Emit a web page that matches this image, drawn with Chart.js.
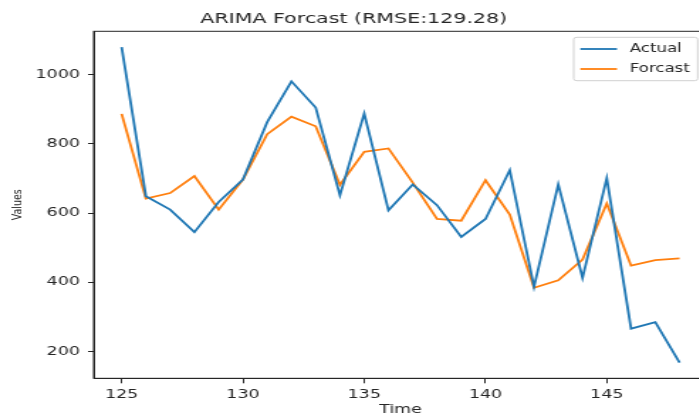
<!DOCTYPE html>
<html>
<head>
<meta charset="utf-8">
<script src="https://cdn.jsdelivr.net/npm/chart.js@4/dist/chart.umd.min.js"></script>
<style>
  html, body { margin: 0; padding: 0; background: #fff; width: 699px; height: 418px; overflow: hidden; }
  /* the source figure was stretched sideways, so the canvas is too */
  #wrap { width: 505px; height: 418px; transform: scaleX(1.42); transform-origin: 0 0; }
</style>
</head>
<body>
<div id="wrap"><canvas id="arima" width="505" height="418"></canvas></div>
<script>
// ===== Data =====
var timeSteps = [125, 126, 127, 128, 129, 130, 131, 132, 133, 134, 135, 136,
                 137, 138, 139, 140, 141, 142, 143, 144, 145, 146, 147, 148];
var actualVals = [1080, 649, 610, 545, 632, 697, 863, 981, 905, 652, 888, 608,
                  683, 623, 531, 583, 724, 387, 683, 413, 701, 266, 285, 168];
var forecastVals = [887, 642, 658, 707, 610, 697, 828, 879, 851, 682, 777, 787,
                    688, 583, 578, 695, 596, 384, 406, 466, 628, 448, 464, 469];
var xTicks = [125, 130, 135, 140, 145];
var yTicks = [200, 400, 600, 800, 1000];
var seriesNames = ['Actual', 'Forcast'];
var chartTitle = 'ARIMA Forcast (RMSE:129.28)';

var BLUE = '#1f77b4';
var ORANGE = '#ff7f0e';
var INK = '#262626';

Chart.defaults.font.family = "'DejaVu Sans', sans-serif";
Chart.defaults.color = INK;

function points(vals) {
  return timeSteps.map(function(t, i) { return { x: t, y: vals[i] }; });
}

// matplotlib style margins (5% of data range)
function padRange(vals, frac) {
  var lo = Math.min.apply(null, vals), hi = Math.max.apply(null, vals);
  var pad = (hi - lo) * frac;
  return { min: lo - pad, max: hi + pad };
}
var xr = padRange(timeSteps, 0.05);
var yr = padRange(actualVals.concat(forecastVals), 0.05);

// top/right spines + boxed legend like matplotlib
var framePlugin = {
  id: 'frame',
  afterDraw: function(chart) {
    var a = chart.chartArea, ctx = chart.ctx;
    ctx.save();
    ctx.strokeStyle = INK;
    ctx.lineWidth = 1;
    ctx.strokeRect(a.left, a.top, a.right - a.left, a.bottom - a.top);

    var bx = a.left + 338, by = a.top + 6, bw = 87.3, bh = 43.4;
    ctx.fillStyle = 'rgba(255,255,255,0.85)';
    ctx.strokeStyle = '#d0d0d0';
    ctx.beginPath();
    ctx.roundRect(bx, by, bw, bh, 2);
    ctx.fill();
    ctx.stroke();

    ctx.font = "11.7px 'DejaVu Sans'";
    ctx.textBaseline = 'middle';
    chart.data.datasets.forEach(function(ds, i) {
      var ly = by + 11.7 + i * 20;
      ctx.strokeStyle = ds.borderColor;
      ctx.lineWidth = 1.8;
      ctx.beginPath();
      ctx.moveTo(bx + 4.7, ly);
      ctx.lineTo(bx + 30.5, ly);
      ctx.stroke();
      ctx.fillStyle = INK;
      ctx.fillText(ds.label, bx + 39.5, ly);
    });
    ctx.restore();
  }
};

new Chart(document.getElementById('arima'), {
  type: 'line',
  data: {
    datasets: [
      { label: seriesNames[0], data: points(actualVals), borderColor: BLUE, borderWidth: 1.8, pointRadius: 0, tension: 0 },
      { label: seriesNames[1], data: points(forecastVals), borderColor: ORANGE, borderWidth: 1.8, pointRadius: 0, tension: 0 },
    ],
  },
  options: {
    responsive: false,
    animation: false,
    devicePixelRatio: 1,
    layout: { padding: { left: 0, right: 6.8, top: 0, bottom: 0 } },
    plugins: {
      legend: { display: false },
      tooltip: { enabled: false },
      title: {
        display: true,
        text: chartTitle,
        color: INK,
        font: { size: 14.5, weight: 'normal' },
        padding: { top: 10.9, bottom: 3 },
      },
    },
    scales: {
      x: {
        type: 'linear',
        min: xr.min,
        max: xr.max,
        bounds: 'data',
        grid: { display: true, drawOnChartArea: false, drawTicks: true, tickLength: 5, color: INK, tickWidth: 1 },
        border: { display: true, color: INK, width: 1 },
        afterBuildTicks: function(s) { s.ticks = xTicks.map(function(v) { return { value: v }; }); },
        afterFit: function(s) { s.height = 39.7; },
        ticks: { color: INK, font: { size: 12.3 }, padding: 4.2, maxRotation: 0,
                 callback: function(v) { return String(v); } },
        title: { display: true, text: 'Time', color: INK, font: { size: 12.3 }, padding: { top: 0, bottom: 0.6 } },
      },
      y: {
        min: yr.min,
        max: yr.max,
        bounds: 'data',
        grid: { display: true, drawOnChartArea: false, drawTicks: true, tickLength: 4, color: INK, tickWidth: 1 },
        border: { display: true, color: INK, width: 1 },
        afterBuildTicks: function(s) { s.ticks = yTicks.map(function(v) { return { value: v }; }); },
        afterFit: function(s) { s.width = 66; },
        ticks: { color: INK, font: { size: 12.3 }, padding: 5.7,
                 callback: function(v) { return String(v); } },
        title: { display: true, text: 'Values', color: INK, font: { size: 9.5 }, padding: { top: 6.8, bottom: 0 } },
      },
    },
  },
  plugins: [framePlugin],
});
</script>
</body>
</html>
